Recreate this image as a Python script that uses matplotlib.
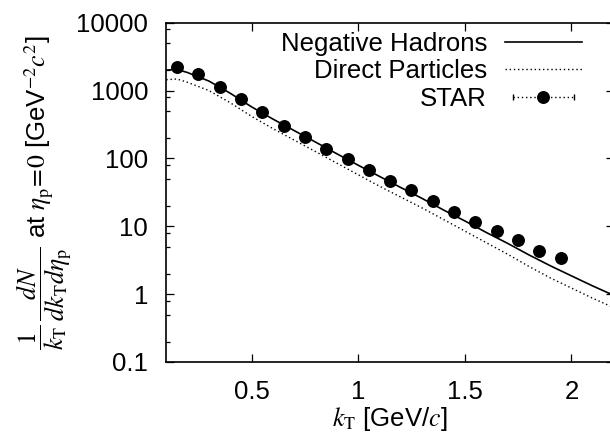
import numpy as np
import matplotlib
matplotlib.use("Agg")
import matplotlib.pyplot as plt
from matplotlib.lines import Line2D
from matplotlib.legend_handler import HandlerLine2D, HandlerTuple
from matplotlib.ticker import FixedLocator, LogLocator, NullFormatter

plt.rcParams['font.family'] = ['Liberation Sans', 'DejaVu Sans']
plt.rcParams['mathtext.fontset'] = 'stix'

# STAR data points (kT in GeV/c)
star_kt = [0.15, 0.25, 0.35, 0.45, 0.55, 0.65, 0.75, 0.85, 0.95, 1.05,
           1.15, 1.25, 1.35, 1.45, 1.55, 1.65, 1.75, 1.85, 1.95]
star_y = [2250, 1740, 1120, 745, 489, 304, 205, 139, 97, 67.7,
          47.1, 34.2, 23.7, 16.5, 11.7, 8.65, 6.24, 4.39, 3.39]

# model curves
curve_kt = [0.10, 0.15, 0.20, 0.30, 0.40, 0.50, 0.60, 0.70, 0.80, 0.90, 1.00,
            1.10, 1.20, 1.30, 1.40, 1.50, 1.60, 1.70, 1.80, 1.90, 2.00, 2.10, 2.20]
neg_hadrons = [2000, 2050, 1840, 1380, 912, 575, 380, 257, 174, 117, 79.4,
               54.3, 37.2, 25.7, 17.4, 12.0, 8.13, 5.62, 3.80, 2.63, 1.86, 1.32, 0.955]
direct = [1445, 1480, 1320, 1000, 661, 417, 275, 186, 126, 85.1, 57.5,
          38.9, 26.9, 18.6, 12.6, 8.51, 5.75, 3.89, 2.57, 1.74, 1.23, 0.87, 0.63]

fs = 18.5

fig = plt.figure(figsize=(6.10, 4.44), dpi=100)
ax = fig.add_axes([0.2726, 0.1847, 0.7340, 0.7642])

ax.plot(curve_kt, neg_hadrons, color='black', lw=1.2, label='Negative Hadrons')
ax.plot(curve_kt, direct, color='black', lw=1.0, linestyle=(0, (1, 2)),
        label='Direct Particles')
ax.plot(star_kt, star_y, linestyle='none', marker='o', ms=8.3, color='black')

ax.set_yscale('log')
ax.set_xlim(0.1, 2.2)
ax.set_ylim(0.1, 10000)

ax.xaxis.set_major_locator(FixedLocator([0.5, 1.0, 1.5, 2.0]))
ax.set_xticklabels(['0.5', '1', '1.5', '2'])
ax.yaxis.set_major_locator(FixedLocator([0.1, 1, 10, 100, 1000, 10000]))
ax.set_yticklabels(['0.1', '1', '10', '100', '1000', '10000'])
ax.yaxis.set_minor_locator(LogLocator(base=10, subs=(2, 5, 8)))
ax.yaxis.set_minor_formatter(NullFormatter())

ax.tick_params(which='both', direction='in', top=True, right=True,
               labelsize=fs, width=0.9)
ax.tick_params(which='major', length=5.5)
ax.tick_params(which='minor', length=3)
ax.tick_params(axis='y', pad=13)
ax.tick_params(axis='x', pad=13)
for s in ax.spines.values():
    s.set_linewidth(1.2)

ax.set_xlabel(r'$k_{\mathrm{T}}$ [GeV/$c$]', fontsize=fs, labelpad=1)
ax.set_ylabel(r'$\dfrac{1}{k_{\mathrm{T}}}\,\dfrac{dN}{dk_{\mathrm{T}}d\eta_{\mathrm{p}}}$'
              r' at $\eta_{\mathrm{p}}\!=\!0$ [GeV$^{-2}c^{2}$]',
              fontsize=fs, labelpad=2)

# legend: STAR entry drawn like gnuplot errorbars key
caps = Line2D([], [], color='black', lw=1.0, linestyle=(0, (1, 2)),
              marker='|', ms=5, mew=1.0)
dot = Line2D([], [], linestyle='none', marker='o', ms=8.3, color='black')
h, l = ax.get_legend_handles_labels()
h.append((caps, dot))
l.append('STAR')
ax.legend(h, l, loc='upper right', bbox_to_anchor=(0.9285, 0.973),
          frameon=False, fontsize=fs, markerfirst=False, numpoints=1,
          handlelength=3.0, handletextpad=0.7, labelspacing=0.13,
          borderpad=0, borderaxespad=0,
          handler_map={caps: HandlerLine2D(numpoints=2),
                       tuple: HandlerTuple(ndivide=1)})

fig.savefig('out.png', dpi=100)
